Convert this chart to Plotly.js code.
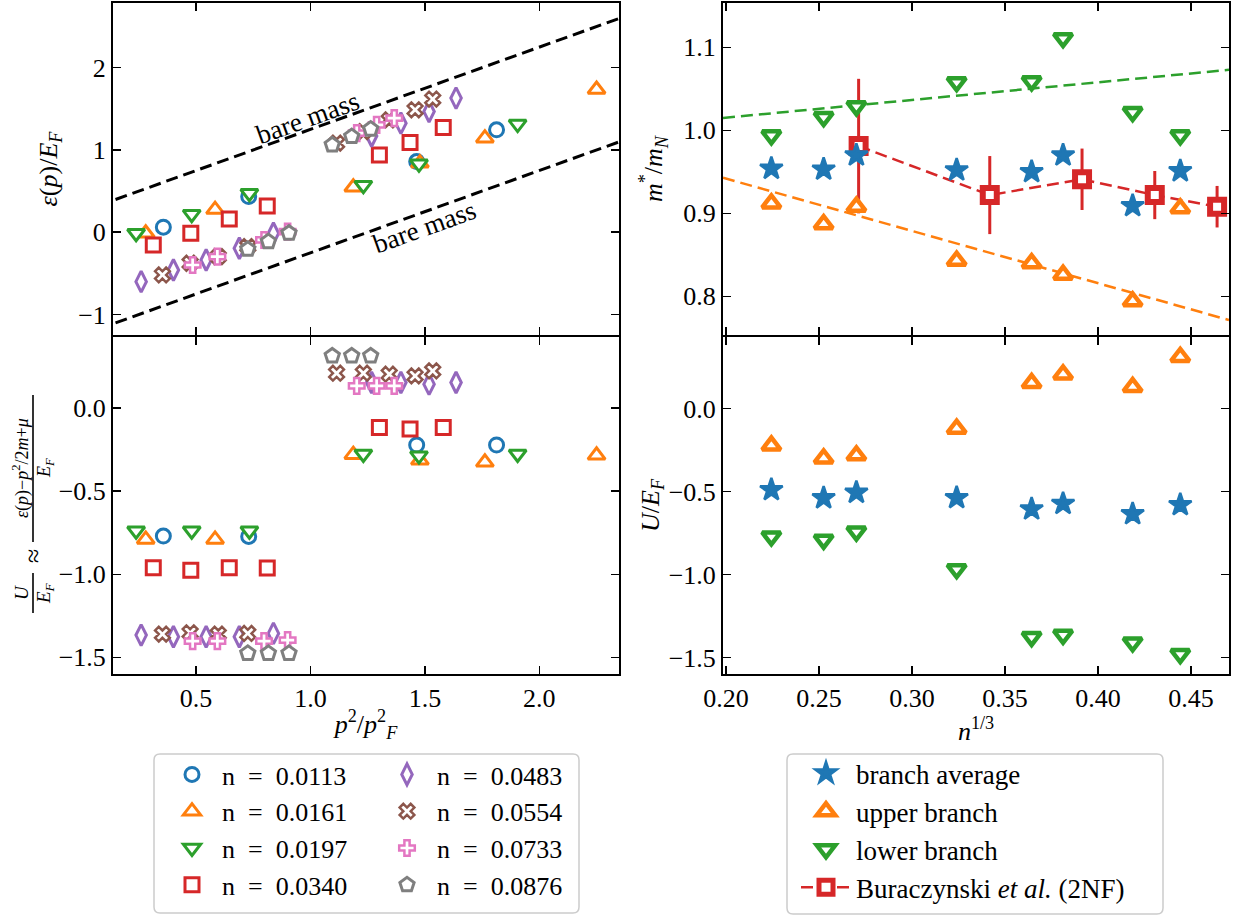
<!DOCTYPE html>
<html><head><meta charset="utf-8">
<script src="https://cdn.plot.ly/plotly-3.0.1.min.js"></script>
<style>
html,body{margin:0;padding:0;background:#fff}
#chart{width:1235px;height:916px}
</style>
</head><body><div id="chart"></div>
<script>
// ---------------- data: left panels (per density) ----------------
const densityNames = ["n = 0.0113","n = 0.0161","n = 0.0197","n = 0.0340","n = 0.0483","n = 0.0554","n = 0.0733","n = 0.0876"];

const pSq_0113 = [0.357, 0.730, 1.464, 1.813];
const eps_0113 = [0.061, 0.433, 0.859, 1.245];
const U_0113   = [-0.770, -0.772, -0.222, -0.222];

const pSq_0161 = [0.280, 0.583, 1.187, 1.478, 1.762, 2.250];
const eps_0161 = [-0.012, 0.275, 0.547, 0.839, 1.143, 1.735];
const U_0161   = [-0.790, -0.790, -0.280, -0.314, -0.326, -0.284];

const pSq_0197 = [0.238, 0.481, 0.733, 1.231, 1.474, 1.905];
const eps_0197 = [-0.012, 0.219, 0.474, 0.572, 0.831, 1.314];
const U_0197   = [-0.738, -0.738, -0.738, -0.276, -0.286, -0.276];

const pSq_0340 = [0.313, 0.477, 0.645, 0.811, 1.301, 1.435, 1.580];
const eps_0340 = [-0.155, -0.012, 0.162, 0.320, 0.940, 1.090, 1.273];
const U_0340   = [-0.960, -0.976, -0.960, -0.962, -0.116, -0.126, -0.116];

const pSq_0483 = [0.260, 0.401, 0.544, 0.689, 0.838, 1.267, 1.395, 1.518, 1.636];
const eps_0483 = [-0.601, -0.459, -0.337, -0.195, -0.012, 1.170, 1.326, 1.467, 1.630];
const U_0483   = [-1.366, -1.376, -1.376, -1.376, -1.356, 0.154, 0.154, 0.144, 0.154];

const pSq_0554 = [0.353, 0.474, 0.597, 0.726, 1.114, 1.231, 1.344, 1.457, 1.534];
const eps_0554 = [-0.519, -0.377, -0.297, -0.175, 1.083, 1.224, 1.366, 1.488, 1.618];
const U_0554   = [-1.360, -1.352, -1.360, -1.356, 0.210, 0.210, 0.204, 0.194, 0.224];

const pSq_0733 = [0.485, 0.593, 0.797, 0.900, 1.202, 1.289, 1.366];
const eps_0733 = [-0.398, -0.297, -0.094, 0.007, 1.204, 1.305, 1.387];
const U_0733   = [-1.402, -1.402, -1.402, -1.396, 0.134, 0.134, 0.134];

const pSq_0876 = [0.726, 0.816, 0.906, 1.095, 1.180, 1.263];
const eps_0876 = [-0.207, -0.114, -0.012, 1.062, 1.163, 1.253];
const U_0876   = [-1.476, -1.476, -1.476, 0.314, 0.314, 0.314];

// bare-mass reference lines
const bareX      = [0.0, 2.5];
const bareUpperY = [0.25, 2.75];
const bareLowerY = [-1.25, 1.25];

// ---------------- data: right panels ----------------
const nCubeRoot = [0.2244, 0.2525, 0.2701, 0.3240, 0.3643, 0.3812, 0.4186, 0.4442];
const mAverage  = [0.954, 0.953, 0.970, 0.952, 0.950, 0.970, 0.909, 0.951];
const mUpper    = [0.912, 0.887, 0.908, 0.843, 0.840, 0.826, 0.794, 0.906];
const mLower    = [0.994, 1.016, 1.029, 1.058, 1.059, 1.111, 1.022, 0.994];
const UAverage  = [-0.490, -0.539, -0.506, -0.538, -0.606, -0.573, -0.635, -0.580];
const UUpper    = [-0.223, -0.301, -0.282, -0.122, 0.153, 0.205, 0.129, 0.310];
const ULower    = [-0.770, -0.790, -0.741, -0.967, -1.375, -1.362, -1.408, -1.478];

const buraX   = [0.2713, 0.3418, 0.3914, 0.4305, 0.4640];
const buraM   = [0.981, 0.922, 0.941, 0.922, 0.908];
const buraErr = [0.081, 0.047, 0.037, 0.029, 0.025];

const fitX      = [0.1984, 0.4704];
const fitLowerM = [1.0149, 1.0728];
const fitUpperM = [0.9429, 0.7715];

// ---------------- styling ----------------
const C = {blue:'#1f77b4', orange:'#ff7f0e', green:'#2ca02c', red:'#d62728',
           purple:'#9467bd', brown:'#8c564b', pink:'#e377c2', gray:'#7f7f7f'};
const FONT = 'Liberation Serif';
const W = 1235, H = 916;
const px = v => v / W, py = v => 1 - v / H;
const nb = s => s.replace(' = ', '\u00a0\u00a0=\u00a0\u00a0');

const leftSeries = [
  [pSq_0113, eps_0113, U_0113, C.blue,   'circle',        14, 3],
  [pSq_0161, eps_0161, U_0161, C.orange, 'triangle-up',   15, 3],
  [pSq_0197, eps_0197, U_0197, C.green,  'triangle-down', 15, 3],
  [pSq_0340, eps_0340, U_0340, C.red,    'square',        14, 3],
  [pSq_0483, eps_0483, U_0483, C.purple, 'diamond-tall',  15, 3],
  [pSq_0554, eps_0554, U_0554, C.brown,  'x',             13, 2.5],
  [pSq_0733, eps_0733, U_0733, C.pink,   'cross',         13, 2.5],
  [pSq_0876, eps_0876, U_0876, C.gray,   'pentagon',      15, 3]
];

const traces = [];
traces.push({x: bareX, y: bareUpperY, xaxis:'x', yaxis:'y', mode:'lines', showlegend:false,
  line:{color:'black', width:3, dash:'12px,6px'}, hoverinfo:'skip'});
traces.push({x: bareX, y: bareLowerY, xaxis:'x', yaxis:'y', mode:'lines', showlegend:false,
  line:{color:'black', width:3, dash:'12px,6px'}, hoverinfo:'skip'});

leftSeries.forEach((s, i) => {
  const mk = {symbol:s[4], size:s[5], color:'white', line:{color:s[3], width:s[6]}};
  traces.push({x:s[0], y:s[1], xaxis:'x', yaxis:'y', mode:'markers', name:nb(densityNames[i]),
    legend: i < 4 ? 'legend' : 'legend2', marker: mk});
  traces.push({x:s[0], y:s[2], xaxis:'x2', yaxis:'y2', mode:'markers', name:densityNames[i],
    showlegend:false, marker: mk});
});

// right top
traces.push({x:fitX, y:fitLowerM, xaxis:'x3', yaxis:'y3', mode:'lines', showlegend:false,
  line:{color:C.green, width:2.5, dash:'12px,6px'}, hoverinfo:'skip'});
traces.push({x:fitX, y:fitUpperM, xaxis:'x3', yaxis:'y3', mode:'lines', showlegend:false,
  line:{color:C.orange, width:2.5, dash:'12px,6px'}, hoverinfo:'skip'});

const starMk  = {symbol:'star', size:17, color:C.blue, line:{color:C.blue, width:2.5}};
const upMk    = {symbol:'triangle-up', size:16, color:'white', line:{color:C.orange, width:4.5}};
const downMk  = {symbol:'triangle-down', size:16, color:'white', line:{color:C.green, width:4.5}};

traces.push({x:buraX, y:buraM, xaxis:'x3', yaxis:'y3', mode:'lines+markers',
  name:'Buraczynski <i>et al.</i> (2NF)', legend:'legend3', legendrank:4,
  line:{color:C.red, width:2.5, dash:'12px,6px'},
  marker:{symbol:'square', size:14, color:'white', line:{color:C.red, width:6}},
  error_y:{type:'data', array:buraErr, visible:true, color:C.red, thickness:3, width:0}});
traces.push({x:nCubeRoot, y:mAverage, xaxis:'x3', yaxis:'y3', mode:'markers', name:'branch average',
  legend:'legend3', legendrank:1, marker:starMk});
traces.push({x:nCubeRoot, y:mUpper, xaxis:'x3', yaxis:'y3', mode:'markers', name:'upper branch',
  legend:'legend3', legendrank:2, marker:upMk});
traces.push({x:nCubeRoot, y:mLower, xaxis:'x3', yaxis:'y3', mode:'markers', name:'lower branch',
  legend:'legend3', legendrank:3, marker:downMk});

// right bottom
traces.push({x:nCubeRoot, y:UAverage, xaxis:'x4', yaxis:'y4', mode:'markers', showlegend:false, marker:starMk});
traces.push({x:nCubeRoot, y:UUpper, xaxis:'x4', yaxis:'y4', mode:'markers', showlegend:false, marker:upMk});
traces.push({x:nCubeRoot, y:ULower, xaxis:'x4', yaxis:'y4', mode:'markers', showlegend:false, marker:downMk});

// ---------------- axes ----------------
const domLeft = [px(113), px(619)], domRight = [px(723), px(1229)];
const domTop = [py(335), py(3)], domBot = [py(674), py(337)];
function ax(extra) {
  return Object.assign({showgrid:false, zeroline:false, showline:true, linecolor:'black', linewidth:2,
    mirror:'ticks', ticks:'inside', ticklen:8, tickwidth:1.5, tickcolor:'black',
    tickfont:{family:FONT, size:26, color:'black'}}, extra);
}
const titleFont = () => ({family:FONT, size:26, color:'black'});
const legFont = () => ({family:FONT, size:26, color:'black'});

const layout = {
  width:W, height:H, margin:{l:0, r:0, t:0, b:0}, paper_bgcolor:'white', plot_bgcolor:'white',
  font:{family:FONT, size:26, color:'black'},
  xaxis: ax({domain:domLeft, anchor:'y', range:[0.137, 2.348], dtick:0.5, tick0:0, showticklabels:false}),
  yaxis: ax({domain:domTop, anchor:'x', range:[-1.249, 2.786], dtick:1, tick0:0,
    title:{text:'<i>ε</i>(<i>p</i>)/<i>E</i><sub><i>F</i></sub>', font:titleFont(), standoff:13}}),
  xaxis2: ax({domain:domLeft, anchor:'y2', range:[0.137, 2.348], dtick:0.5, tick0:0, tickformat:'.1f',
    title:{text:'<i>p</i><sup>2</sup>/<i>p</i><sup>2</sup><sub><i>F</i></sub>', font:titleFont(), standoff:3}}),
  yaxis2: ax({domain:domBot, anchor:'x2', range:[-1.600, 0.428], dtick:0.5, tick0:0, tickformat:'.1f'}),
  xaxis3: ax({domain:domRight, anchor:'y3', range:[0.1984, 0.4704], dtick:0.05, tick0:0, showticklabels:false}),
  yaxis3: ax({domain:domTop, anchor:'x3', range:[0.7535, 1.1533], dtick:0.1, tick0:0, tickformat:'.1f',
    title:{text:'<i>m</i><sup>*</sup>/<i>m</i><sub><i>N</i></sub>', font:titleFont(), standoff:13}}),
  xaxis4: ax({domain:domRight, anchor:'y4', range:[0.1984, 0.4704], dtick:0.05, tick0:0, tickformat:'.2f',
    title:{text:'<i>n</i><sup>1/3</sup>', font:titleFont(), standoff:2}}),
  yaxis4: ax({domain:domBot, anchor:'x4', range:[-1.598, 0.430], dtick:0.5, tick0:0, tickformat:'.1f',
    title:{text:'<i>U</i>/<i>E</i><sub><i>F</i></sub>', font:titleFont(), standoff:2}}),
  legend: {x:px(162), y:py(751), xanchor:'left', yanchor:'top', bgcolor:'rgba(0,0,0,0)', borderwidth:0,
    font:legFont(), itemwidth:50},
  legend2: {x:px(377), y:py(751), xanchor:'left', yanchor:'top', bgcolor:'rgba(0,0,0,0)', borderwidth:0,
    font:legFont(), itemwidth:50},
  legend3: {x:px(796), y:py(749), xanchor:'left', yanchor:'top', bgcolor:'rgba(0,0,0,0)', borderwidth:0,
    font:{family:FONT, size:27, color:'black'}, itemwidth:50, traceorder:'normal'},
  annotations: [],
  shapes: []
};

function rrect(x0, y0, x1, y1, r) {
  const X = v => px(v), Y = v => py(v);
  return 'M' + X(x0 + r) + ',' + Y(y0) + ' L' + X(x1 - r) + ',' + Y(y0) +
    ' Q' + X(x1) + ',' + Y(y0) + ' ' + X(x1) + ',' + Y(y0 + r) +
    ' L' + X(x1) + ',' + Y(y1 - r) + ' Q' + X(x1) + ',' + Y(y1) + ' ' + X(x1 - r) + ',' + Y(y1) +
    ' L' + X(x0 + r) + ',' + Y(y1) + ' Q' + X(x0) + ',' + Y(y1) + ' ' + X(x0) + ',' + Y(y1 - r) +
    ' L' + X(x0) + ',' + Y(y0 + r) + ' Q' + X(x0) + ',' + Y(y0) + ' ' + X(x0 + r) + ',' + Y(y0) + ' Z';
}
layout.shapes.push({type:'path', xref:'paper', yref:'paper', path:rrect(154, 754, 579, 913, 6),
  line:{color:'#cccccc', width:1.5}, fillcolor:'rgba(255,255,255,0.8)', layer:'above'});
layout.shapes.push({type:'path', xref:'paper', yref:'paper', path:rrect(787, 754, 1163, 914, 6),
  line:{color:'#cccccc', width:1.5}, fillcolor:'rgba(255,255,255,0.8)', layer:'above'});

// "bare mass" labels
const slopeAngle = -Math.atan((82.2) / (228.9)) * 180 / Math.PI;
layout.annotations.push({xref:'x', yref:'y', x:0.987, y:1.391, text:'bare mass', showarrow:false,
  textangle:slopeAngle, font:{family:FONT, size:27, color:'black'}});
layout.annotations.push({xref:'x', yref:'y', x:1.500, y:0.058, text:'bare mass', showarrow:false,
  textangle:slopeAngle, font:{family:FONT, size:27, color:'black'}});

// bottom-left composite y label (fractions)
const rot = (x, y, t, s) => ({xref:'paper', yref:'paper', x:px(x), y:py(y), text:t, showarrow:false,
  textangle:-90, xanchor:'center', yanchor:'middle', font:{family:FONT, size:s, color:'black'}});
layout.annotations.push(rot(21, 468, '<i>ε</i>(<i>p</i>)−<i>p</i><sup>2</sup>/2<i>m</i>+<i>μ</i>', 18));
layout.annotations.push(rot(45, 468, '<i>E</i><sub><i>F</i></sub>', 18));
layout.annotations.push(rot(33, 556, '≈', 26));
layout.annotations.push(rot(21, 593, '<i>U</i>', 19));
layout.annotations.push(rot(45, 593, '<i>E</i><sub><i>F</i></sub>', 19));
layout.shapes.push({type:'line', xref:'paper', yref:'paper', x0:px(33), x1:px(33), y0:py(395), y1:py(542),
  line:{color:'black', width:1.6}});
layout.shapes.push({type:'line', xref:'paper', yref:'paper', x0:px(33), x1:px(33), y0:py(573), y1:py(613),
  line:{color:'black', width:1.6}});

Plotly.newPlot('chart', traces, layout, {displayModeBar:false, staticPlot:true});
</script>
</body></html>
